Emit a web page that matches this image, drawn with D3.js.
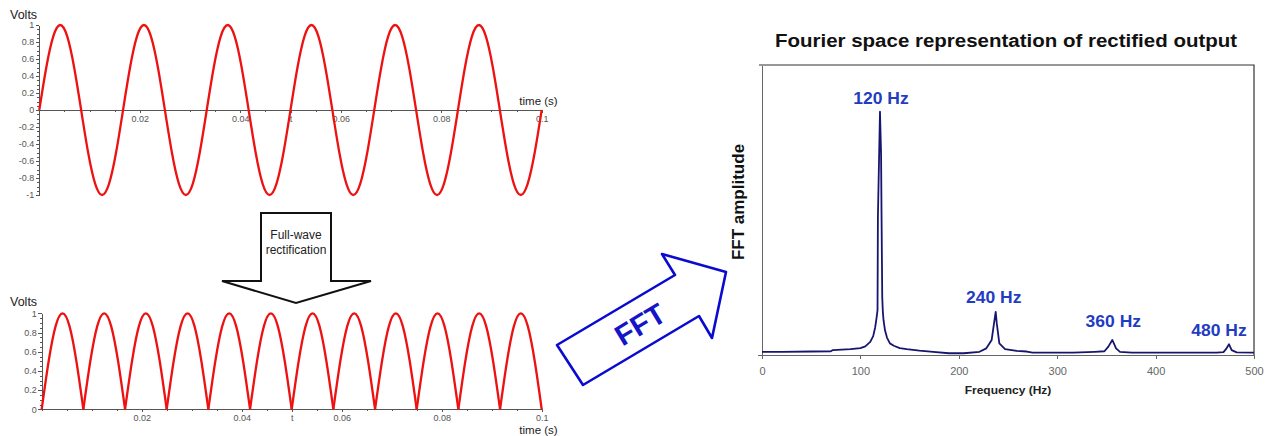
<!DOCTYPE html>
<html lang="en">
<head>
<meta charset="UTF-8">
<title>Full-wave rectification and its FFT</title>
<script src="https://d3js.org/d3.v7.min.js"></script>
<style>
  body { margin: 0; background: #fff; }
  svg { display: block; font-family: "Liberation Sans", Arial, sans-serif; }
  .axis path, .axis line { stroke: #555; shape-rendering: crispEdges; }
  .axis text { font-family: "Liberation Sans", Arial, sans-serif; font-size: 9px; fill: #555; }
  .fft-axis text { font-size: 11px; fill: #666; }
  .fft-axis path, .fft-axis line { stroke: #666; }
  .wave { fill: none; stroke: #ee1111; stroke-width: 2.3; stroke-linejoin: round; }
  .label { font-size: 12px; fill: #222; }
  .peak { font-size: 17.5px; font-weight: bold; fill: #1f3cc2; text-anchor: middle; }
</style>
</head>
<body>
<svg width="1276" height="436"></svg>
<script>
// sample instants (s), one every 30 degrees of the 60 Hz mains
const timeS = [
  0, .00139, .00278, .00417, .00556, .00694, .00833, .00972, .01111, .0125, .01389, .01528,
  .01667, .01806, .01944, .02083, .02222, .02361, .025, .02639, .02778, .02917, .03056, .03194,
  .03333, .03472, .03611, .0375, .03889, .04028, .04167, .04306, .04444, .04583, .04722, .04861,
  .05, .05139, .05278, .05417, .05556, .05694, .05833, .05972, .06111, .0625, .06389, .06528,
  .06667, .06806, .06944, .07083, .07222, .07361, .075, .07639, .07778, .07917, .08056, .08194,
  .08333, .08472, .08611, .0875, .08889, .09028, .09167, .09306, .09444, .09583, .09722, .09861,
  .1
];
const inputVolts = [
  0, .5, .866, 1, .866, .5, 0, -.5, -.866, -1, -.866, -.5,
  0, .5, .866, 1, .866, .5, 0, -.5, -.866, -1, -.866, -.5,
  0, .5, .866, 1, .866, .5, 0, -.5, -.866, -1, -.866, -.5,
  0, .5, .866, 1, .866, .5, 0, -.5, -.866, -1, -.866, -.5,
  0, .5, .866, 1, .866, .5, 0, -.5, -.866, -1, -.866, -.5,
  0, .5, .866, 1, .866, .5, 0, -.5, -.866, -1, -.866, -.5,
  0
];
const rectifiedVolts = [
  0, .5, .866, 1, .866, .5, 0, .5, .866, 1, .866, .5,
  0, .5, .866, 1, .866, .5, 0, .5, .866, 1, .866, .5,
  0, .5, .866, 1, .866, .5, 0, .5, .866, 1, .866, .5,
  0, .5, .866, 1, .866, .5, 0, .5, .866, 1, .866, .5,
  0, .5, .866, 1, .866, .5, 0, .5, .866, 1, .866, .5,
  0, .5, .866, 1, .866, .5, 0, .5, .866, 1, .866, .5,
  0
];
const inputTicks = [-1, -0.8, -0.6, -0.4, -0.2, 0, 0.2, 0.4, 0.6, 0.8, 1];
const rectTicks = [0, 0.2, 0.4, 0.6, 0.8, 1];
const timeTicks = [0.02, 0.04, 0.05, 0.06, 0.08, 0.1];
const timeTickLabels = ["0.02", "0.04", "t", "0.06", "0.08", "0.1"];

// spectrum of the rectified signal
const fftFreq = [0, 20, 50, 70, 72, 90, 100, 105, 110, 113, 115, 116.5, 117.4, 117.8, 119.9,
  121.0, 121.5, 122.2, 122.8, 123.5, 125, 127, 130, 134, 140, 147, 160, 174, 190, 205,
  221, 228, 233.4, 235.8, 237.5, 238.6, 241.2, 247, 258.8, 269, 275, 316, 338, 348, 352,
  356, 359.8, 363.8, 376, 435, 462, 469, 471.5, 474.6, 477.3, 482.4, 500];
const fftAmp = [1.1, 1.1, 1.2, 1.3, 1.7, 2.0, 2.4, 3.0, 4.5, 6.5, 9.5, 13, 15.5, 47.7, 83.9,
  69.6, 47.7, 20, 15, 12, 8.5, 6, 4, 3.2, 2.4, 2.0, 1.5, 1.1, 0.6, 0.6,
  1.1, 2.3, 5.2, 10.9, 14.9, 10.9, 4.0, 2.0, 1.4, 1.2, 0.8, 0.8, 1.1, 1.3, 2.9,
  5.2, 2.3, 1.1, 0.8, 0.8, 0.8, 1.0, 2.0, 3.7, 1.7, 0.9, 0.8];
const freqTicks = [0, 100, 200, 300, 400, 500];
const peakHz = [120, 240, 360, 480];

const svg = d3.select("svg");

// maple style plot: axis crossing at v=0, minor + major ticks
function maplePlot(x, y, yTicks, minorCount, voltsY, timeY) {
  const g = svg.append("g");
  const x0 = x(0), y0 = y(0);
  g.append("g").attr("class", "axis").attr("transform", `translate(${x0},0)`)
    .call(d3.axisLeft(y).ticks(minorCount).tickSize(2).tickSizeOuter(0).tickFormat(""));
  g.append("g").attr("class", "axis").attr("transform", `translate(${x0},0)`)
    .call(d3.axisLeft(y).tickValues(yTicks).tickSize(3.5).tickSizeOuter(0).tickPadding(1.5).tickFormat(d => String(d)));
  g.append("g").attr("class", "axis").attr("transform", `translate(0,${y0})`)
    .call(d3.axisBottom(x).ticks(25).tickSize(2).tickSizeOuter(0).tickFormat(""));
  g.append("g").attr("class", "axis").attr("transform", `translate(0,${y0})`)
    .call(d3.axisBottom(x).tickValues(timeTicks).tickSize(3).tickSizeOuter(0).tickPadding(2.5)
      .tickFormat((d, i) => timeTickLabels[i]));
  g.append("text").attr("class", "label").attr("x", 10).attr("y", voltsY)
    .style("font-size", "12.5px").text("Volts");
  g.append("text").attr("class", "label").attr("x", x(0.1) + 16).attr("y", timeY)
    .attr("text-anchor", "end").style("font-size", "11.5px").text("time (s)");
  return g;
}

// input sine
const xTop = d3.scaleLinear().domain([0, 0.1]).range([39.3, 541.7]);
const yTop = d3.scaleLinear().domain([-1, 1]).range([195, 25]);
const gTop = maplePlot(xTop, yTop, inputTicks, 40, 18.5, 105);
gTop.append("path")
  .attr("class", "wave")
  .attr("d", d3.line().x((d, i) => xTop(timeS[i])).y(d => yTop(d)).curve(d3.curveNatural)(inputVolts));

// rectified output, each half cycle its own arch so the cusps stay sharp
const xBot = d3.scaleLinear().domain([0, 0.1]).range([41.7, 541.7]);
const yBot = d3.scaleLinear().domain([0, 1]).range([409.3, 313.3]);
const gBot = maplePlot(xBot, yBot, rectTicks, 20, 306, 433.5);
const zeros = rectifiedVolts.map((v, i) => v === 0 ? i : -1).filter(i => i >= 0);
const arch = d3.line().x(i => xBot(timeS[i])).y(i => yBot(rectifiedVolts[i])).curve(d3.curveNatural);
gBot.selectAll("path.wave").data(d3.pairs(zeros)).join("path")
  .attr("class", "wave")
  .attr("d", ([a, b]) => arch(d3.range(a, b + 1)));

// block arrow between the two plots
svg.append("path")
  .attr("d", "M261,213 L331,213 L331,281 L371,281 L296,303 L222,281 L261,281 Z")
  .attr("fill", "#fff").attr("stroke", "#111").attr("stroke-width", 2).attr("stroke-linejoin", "miter");
svg.append("text").attr("class", "label").attr("x", 296).attr("y", 239)
  .attr("text-anchor", "middle").text("Full-wave");
svg.append("text").attr("class", "label").attr("x", 296).attr("y", 254)
  .attr("text-anchor", "middle").text("rectification");

// hand drawn FFT arrow
svg.append("path")
  .attr("d", "M557,345 L583,385 L699,316 L712,338 L726,272 L662,254 L675,275 Z")
  .attr("fill", "none").attr("stroke", "#0a0ad0").attr("stroke-width", 2.6).attr("stroke-linejoin", "round");
svg.append("text")
  .attr("transform", "translate(640,324) rotate(-31)")
  .attr("text-anchor", "middle").attr("dy", "0.36em")
  .style("font-size", "29px").style("font-weight", "bold").attr("fill", "#1515c8")
  .text("FFT");

// spectrum panel
const xF = d3.scaleLinear().domain([0, 500]).range([762, 1254]);
const yF = d3.scaleLinear().domain([0, 100]).range([355, 65]);

svg.append("path")
  .attr("d", `M${xF(0) - 3},${yF(100)} H${xF(500)} V${yF(0)}`)
  .attr("fill", "none").attr("stroke", "#333").attr("stroke-width", 1.2);
svg.append("g").attr("class", "axis fft-axis").attr("transform", `translate(${xF(0)},0)`)
  .call(d3.axisLeft(yF).tickValues([0]).tickSize(4).tickSizeOuter(0).tickFormat(""));
svg.append("g").attr("class", "axis fft-axis").attr("transform", `translate(0,${yF(0)})`)
  .call(d3.axisBottom(xF).tickValues(freqTicks).tickSize(4).tickSizeOuter(0).tickPadding(8.5));

svg.append("path")
  .attr("d", d3.line().x((d, i) => xF(d)).y((d, i) => yF(fftAmp[i]))(fftFreq))
  .attr("fill", "none").attr("stroke", "#16166e").attr("stroke-width", 1.8).attr("stroke-linejoin", "round");

// peak labels sit just above the highest sample near each harmonic
const labelNudge = [[1, -8], [-2, -9], [1, -13], [-10, -8]];
peakHz.forEach((hz, k) => {
  let best = 0;
  fftFreq.forEach((f, i) => {
    if (Math.abs(f - hz) < 15 && fftAmp[i] > fftAmp[best] || Math.abs(fftFreq[best] - hz) >= 15) best = i;
  });
  svg.append("text").attr("class", "peak")
    .attr("transform", `translate(${xF(fftFreq[best]) + labelNudge[k][0]},${yF(fftAmp[best]) + labelNudge[k][1]}) scale(1,0.9)`)
    .text(`${hz} Hz`);
});

svg.append("text")
  .attr("transform", "translate(1006,47) scale(1,0.88)")
  .attr("text-anchor", "middle")
  .style("font-size", "20.5px").style("font-weight", "bold").attr("fill", "#111")
  .text("Fourier space representation of rectified output");
svg.append("text")
  .attr("transform", "translate(1008,394) scale(1,0.88)")
  .attr("text-anchor", "middle")
  .style("font-size", "12px").style("font-weight", "bold").attr("fill", "#222")
  .text("Frequency (Hz)");
svg.append("text")
  .attr("transform", "translate(744,202) rotate(-90)")
  .attr("text-anchor", "middle")
  .style("font-size", "17px").style("font-weight", "bold").attr("fill", "#111")
  .text("FFT amplitude");
</script>
</body>
</html>
